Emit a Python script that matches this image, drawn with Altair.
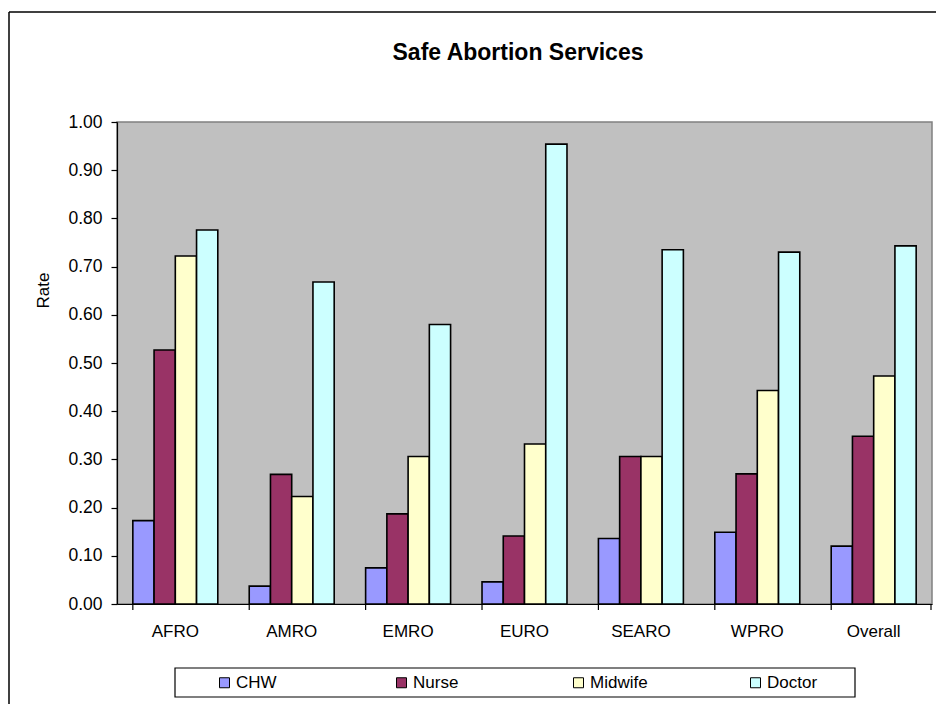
import altair as alt
import pandas as pd

# Regions on the x axis and the four provider types
regions = ["AFRO", "AMRO", "EMRO", "EURO", "SEARO", "WPRO", "Overall"]
roles = ["CHW", "Nurse", "Midwife", "Doctor"]

# Rate of safe abortion services by provider type, per region
chw = [0.173, 0.037, 0.075, 0.046, 0.136, 0.149, 0.120]
nurse = [0.527, 0.269, 0.187, 0.141, 0.306, 0.270, 0.348]
midwife = [0.722, 0.223, 0.306, 0.332, 0.306, 0.443, 0.473]
doctor = [0.776, 0.668, 0.580, 0.954, 0.735, 0.730, 0.743]

colors = ["#9999FF", "#993366", "#FFFFCC", "#CCFFFF"]
y_ticks = [round(i * 0.1, 1) for i in range(11)]
chart_title = "Safe Abortion Services"

rows = []
for role, vals in zip(roles, [chw, nurse, midwife, doctor]):
    for reg, v in zip(regions, vals):
        rows.append({"region": reg, "role": role, "rate": v})
df = pd.DataFrame(rows)

W, H = 815, 482
FONT = "Liberation Sans"

bars = alt.Chart(df).mark_bar(stroke="black", strokeWidth=1.6).encode(
    x=alt.X(
        "region:N",
        sort=regions,
        scale=alt.Scale(paddingInner=0.27, paddingOuter=0.136),
        axis=alt.Axis(
            title=None, labelAngle=0, ticks=False, tickSize=0,
            labelPadding=19, labelFontSize=17, labelFont=FONT,
            labelColor="black", domainColor="black", domainWidth=1.2,
        ),
    ),
    xOffset=alt.XOffset("role:N", sort=roles, scale=alt.Scale(paddingInner=0, paddingOuter=0)),
    y=alt.Y(
        "rate:Q",
        scale=alt.Scale(domain=[0, 1], nice=False),
        axis=alt.Axis(
            title="Rate", values=y_ticks, format=".2f", grid=False,
            tickSize=6, tickColor="black", tickWidth=1.2,
            labelPadding=9, labelFontSize=17.5, labelFont=FONT, labelColor="black",
            domainColor="black", domainWidth=1.2,
            titleFont=FONT, titleFontSize=17, titleFontWeight="normal",
            titleColor="black", titleAngle=-90, titleX=-74, titleY=168,
            titleAlign="center", titleBaseline="middle",
        ),
    ),
    color=alt.Color(
        "role:N",
        sort=roles,
        scale=alt.Scale(domain=roles, range=colors),
        legend=alt.Legend(
            title=None, orient="none", legendX=99, legendY=552,
            direction="horizontal", columns=4, gridAlign="all",
            columnPadding=99, symbolType="square", symbolSize=100,
            symbolStrokeColor="black", symbolStrokeWidth=1,
            labelFont=FONT, labelFontSize=17, labelColor="black",
            labelOffset=3, padding=0,
        ),
    ),
)

# Category separator ticks below the x axis
sep = alt.Chart(pd.DataFrame({"region": regions})).mark_rule(
    color="black", strokeWidth=1.2
).encode(
    x=alt.X("region:N", sort=regions, bandPosition=0),
    y=alt.value(H),
    y2=alt.value(H + 6),
)
sep_end = alt.Chart(pd.DataFrame({"k": [0]})).mark_rule(
    color="black", strokeWidth=1.2
).encode(x=alt.value(W - 1), y=alt.value(H), y2=alt.value(H + 6))

# Legend frame
legend_box = alt.Chart(pd.DataFrame({"k": [0]})).mark_rect(
    fill="white", stroke="black", strokeWidth=1.2
).encode(
    x=alt.value(58), x2=alt.value(738),
    y=alt.value(546), y2=alt.value(575),
)

# Outer chart frame (top and left edges)
frame_top = alt.Chart(pd.DataFrame({"k": [0]})).mark_rule(
    color="black", strokeWidth=1.5
).encode(x=alt.value(-108), x2=alt.value(W + 10), y=alt.value(-110))
frame_left = alt.Chart(pd.DataFrame({"k": [0]})).mark_rule(
    color="black", strokeWidth=1.5
).encode(x=alt.value(-108), y=alt.value(-110), y2=alt.value(H + 110))

# Chart heading
heading = alt.Chart(pd.DataFrame({"t": [chart_title]})).mark_text(
    font=FONT, fontSize=23, fontWeight="bold", color="black",
    align="center", baseline="middle",
).encode(text="t:N", x=alt.value(401), y=alt.value(-69))

chart = alt.layer(
    frame_top, frame_left, heading, bars, sep, sep_end, legend_box
).properties(
    width=W,
    height=H,
    autosize=alt.AutoSizeParams(type="none"),
    padding={"left": 117, "top": 122, "right": 4, "bottom": 100},
    background="white",
).configure_view(
    fill="#C0C0C0", stroke="#808080", strokeWidth=1.5
)

chart.save("out.html", embed_options={"renderer": "svg", "actions": False})
